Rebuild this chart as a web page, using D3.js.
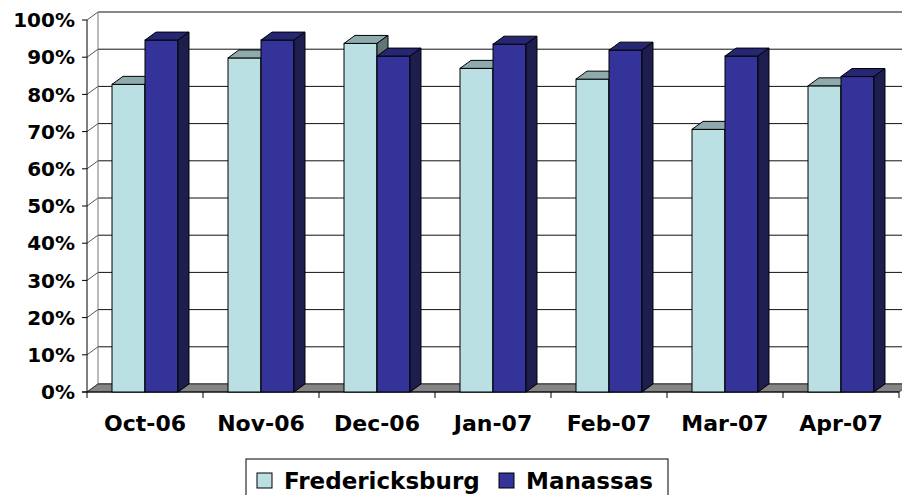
<!DOCTYPE html>
<html>
<head>
<meta charset="utf-8">
<script src="https://cdn.jsdelivr.net/npm/d3@7"></script>
<style>
  body { margin: 0; background: #fff; }
  svg text { font-family: "DejaVu Sans", sans-serif; font-weight: bold; fill: #000; }
</style>
</head>
<body>
<svg id="chart" width="902" height="495"></svg>
<script>
// data
const months = ['Oct-06', 'Nov-06', 'Dec-06', 'Jan-07', 'Feb-07', 'Mar-07', 'Apr-07'];
const seriesNames = ['Fredericksburg', 'Manassas'];
const fredericksburg = [0.827, 0.898, 0.937, 0.870, 0.841, 0.706, 0.823];
const manassas = [0.946, 0.946, 0.903, 0.935, 0.919, 0.903, 0.848];
const yTicks = [0, 0.1, 0.2, 0.3, 0.4, 0.5, 0.6, 0.7, 0.8, 0.9, 1];

const colors = {
    Fredericksburg: { front: '#bbe0e3', top: '#8eaaac', side: '#5f7576' },
    Manassas: { front: '#333399', top: '#262672', side: '#1e1e4e' }
};

// depth offset of the 3d box
const dx = 11, dy = -8;

const svg = d3.select('#chart');

const y = d3.scaleLinear().domain([0, 1]).range([392, 20]);
const x = d3.scaleBand().domain(months).range([87, 899]);
const xs = d3.scaleBand().domain(seriesNames).range([0, x.bandwidth()])
    .paddingInner(0).paddingOuter(0.758);

const x0 = x.range()[0], x1 = x.range()[1];

// back wall gridlines
const walls = svg.append('g');
walls.selectAll('line.grid')
    .data(yTicks)
    .join('line')
    .attr('class', 'grid')
    .attr('x1', x0 + dx).attr('x2', x1 + dx)
    .attr('y1', d => y(d) + dy).attr('y2', d => y(d) + dy)
    .attr('stroke', '#111').attr('stroke-width', 1);

// side wall diagonals
walls.selectAll('line.diag')
    .data(yTicks)
    .join('line')
    .attr('class', 'diag')
    .attr('x1', x0).attr('x2', x0 + dx)
    .attr('y1', d => y(d)).attr('y2', d => y(d) + dy)
    .attr('stroke', '#555').attr('stroke-width', 1);

walls.append('line')
    .attr('x1', x0 + dx).attr('x2', x0 + dx)
    .attr('y1', y(0) + dy).attr('y2', y(1) + dy)
    .attr('stroke', '#777');

// floor
walls.append('polygon')
    .attr('points', [[x0, y(0)], [x1, y(0)], [x1 + dx, y(0) + dy], [x0 + dx, y(0) + dy]].join(' '))
    .attr('fill', '#858585').attr('stroke', '#333').attr('stroke-width', 1);

// front value axis
const axisG = svg.append('g');
axisG.append('line')
    .attr('x1', x0).attr('x2', x0)
    .attr('y1', y(0)).attr('y2', y(1))
    .attr('stroke', '#000');
axisG.selectAll('line.tick')
    .data(yTicks)
    .join('line')
    .attr('class', 'tick')
    .attr('x1', x0 - 5).attr('x2', x0)
    .attr('y1', d => y(d)).attr('y2', d => y(d))
    .attr('stroke', '#000');
axisG.selectAll('text')
    .data(yTicks)
    .join('text')
    .attr('x', 75)
    .attr('y', d => y(d))
    .attr('dy', '0.36em')
    .attr('text-anchor', 'end')
    .style('font-size', '20px')
    .text(d => d3.format('.0%')(d));

// front floor edge + category ticks
axisG.append('line')
    .attr('x1', x0 - 5).attr('x2', x1)
    .attr('y1', y(0)).attr('y2', y(0))
    .attr('stroke', '#000');
axisG.selectAll('line.ctick')
    .data(months.concat(['end']))
    .join('line')
    .attr('class', 'ctick')
    .attr('x1', (d, i) => x0 + i * x.step()).attr('x2', (d, i) => x0 + i * x.step())
    .attr('y1', y(0)).attr('y2', y(0) + 6)
    .attr('stroke', '#000');
axisG.selectAll('text.cat')
    .data(months)
    .join('text')
    .attr('class', 'cat')
    .attr('x', d => x(d) + x.bandwidth() / 2)
    .attr('y', 431)
    .attr('text-anchor', 'middle')
    .style('font-size', '22px')
    .text(d => d);

// bars
const bars = [];
months.forEach((m, i) => {
    bars.push({ month: m, series: 'Fredericksburg', value: fredericksburg[i] });
    bars.push({ month: m, series: 'Manassas', value: manassas[i] });
});

const barG = svg.append('g')
    .selectAll('g.bar')
    .data(bars)
    .join('g')
    .attr('class', 'bar');

function barGeom(d) {
    const left = x(d.month) + xs(d.series);
    const right = left + xs.bandwidth();
    const top = y(d.value);
    const bottom = y(0);
    return { left, right, top, bottom };
}

barG.append('rect')
    .attr('x', d => barGeom(d).left)
    .attr('y', d => barGeom(d).top)
    .attr('width', xs.bandwidth())
    .attr('height', d => y(0) - y(d.value))
    .attr('fill', d => colors[d.series].front)
    .attr('stroke', '#000');

barG.append('polygon')
    .attr('points', d => {
        const g = barGeom(d);
        return [[g.left, g.top], [g.left + dx, g.top + dy], [g.right + dx, g.top + dy], [g.right, g.top]].join(' ');
    })
    .attr('fill', d => colors[d.series].top)
    .attr('stroke', '#000');

barG.append('polygon')
    .attr('points', d => {
        const g = barGeom(d);
        return [[g.right, g.top], [g.right + dx, g.top + dy], [g.right + dx, g.bottom + dy], [g.right, g.bottom]].join(' ');
    })
    .attr('fill', d => colors[d.series].side)
    .attr('stroke', '#000');

// legend
const legend = svg.append('g');
legend.append('rect')
    .attr('x', 246).attr('y', 459)
    .attr('width', 422).attr('height', 60)
    .attr('fill', '#fff').attr('stroke', '#000');

const legendX = [257, 499];
const items = legend.selectAll('g.item')
    .data(seriesNames)
    .join('g')
    .attr('class', 'item')
    .attr('transform', (d, i) => `translate(${legendX[i]}, 473)`);
items.append('rect')
    .attr('width', 15).attr('height', 15)
    .attr('fill', d => colors[d].front)
    .attr('stroke', '#000');
items.append('text')
    .attr('x', 27).attr('y', 16)
    .style('font-size', '23px')
    .text(d => d);
</script>
</body>
</html>
